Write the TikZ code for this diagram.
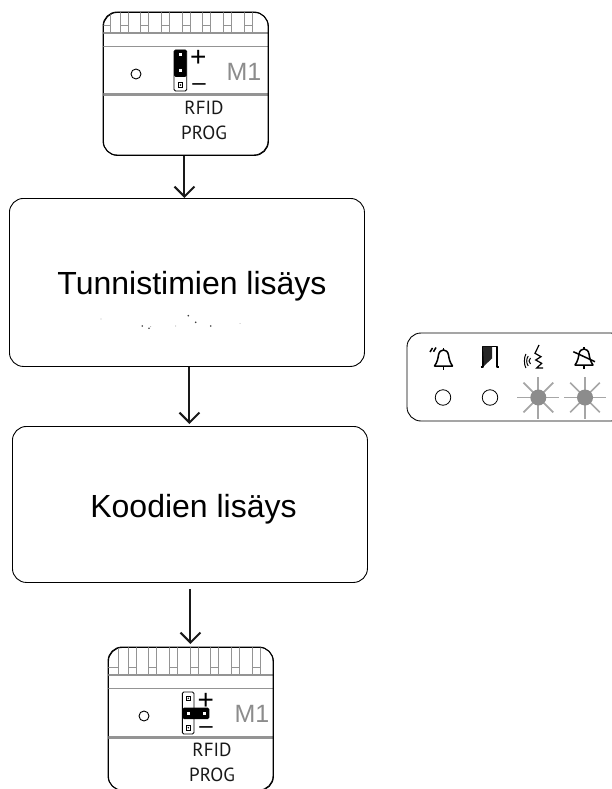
\documentclass[tikz,border=0pt]{standalone}
\usepackage{fontspec}
\setmainfont{Liberation Sans}
\newfontfamily\labelfont{PT Sans}
\usetikzlibrary{arrows.meta}
\definecolor{ledgray}{gray}{0.55}
\definecolor{raygray}{gray}{0.65}
\definecolor{rulegray}{gray}{0.58}
\tikzset{
 stepbox/.style={draw,line width=0.9pt,rounded corners=14pt,inner sep=0pt,anchor=north west},
 steptext/.style={inner sep=0pt,font=\fontsize{32}{34}\selectfont},
 sign/.style={inner sep=0pt,text height=10pt,text depth=0pt},
 flow/.style={-{Straight Barb[length=10pt,width=20pt,line width=2pt]},line width=2pt,black!90},
 pin/.style={fill=white,minimum size=3pt,inner sep=0pt},
 hole/.style={draw,line width=0.7pt,fill=white,minimum size=4.5pt,inner sep=0pt},
 lamp/.style={circle,draw,line width=0.8pt,fill=white,minimum size=15.5pt,inner sep=0pt},
 lit/.style={circle,fill=ledgray,minimum size=16pt,inner sep=0pt},
 icon/.style={line width=1.5pt,line join=round}
}
\begin{document}
\begin{tikzpicture}[x=1pt,y=-1pt]
 \useasboundingbox (0,0) rectangle (611,789);
 % the two steps
 \node[stepbox,minimum width=355pt,minimum height=168pt] (add1) at (9,198) {};
 \node[stepbox,minimum width=355pt,minimum height=156pt] (add2) at (12,426) {};
 \node[steptext] (add1 text) at (192,286) {Tunnistimien lis\"ays};
 \node[steptext] (add2 text) at (193.5,509) {Koodien lis\"ays};
 % specks under the first label
 \foreach \sx/\sy/\sr in {142.3/326/0.9,149/328.3/0.9,150.7/326.7/0.4,175.7/326/0.4,188.3/315.7/0.9,195.7/322.3/0.9,210.7/326/0.9,101/319/0.3,240/323.3/0.3}
  \fill[black!75] (\sx,\sy) circle (\sr pt);
 % RFID modules
 \foreach \mname/\mx/\my/\dx/\dy in {mod1/103/12/0/0,mod2/108/647/3/7}{
  \node[stepbox,minimum width=165pt,minimum height=143pt] (\mname) at (\mx,\my) {};
  \begin{scope}
   \clip[rounded corners=14pt] (\mx,\my) rectangle ++(165,143);
   \foreach \k in {0,...,6}{
    \draw[line width=0.8pt,rulegray] (\mx+\dx+17+20.7*\k,\my) -- ++(0,21+\dy)
     (\mx+\dx+25+20.7*\k,\my) -- ++(0,21+\dy)
     (\mx+\dx+17+20.7*\k,\my+13+\dy) -- ++(8,0);
   }
   \draw[line width=0.8pt,rulegray] (\mx+\dx+7,\my) -- ++(0,21+\dy)
    (\mx,\my+13+\dy) -- ++(\dx+7,0);
   \draw[line width=2.2pt,rulegray] (\mx,\my+21+\dy) -- ++(165,0);
   \draw[line width=0.9pt,rulegray] (\mx,\my+34+\dy) -- ++(165,0);
   \draw[line width=3pt,rulegray] (\mx,\my+83+\dy) -- ++(165,0);
  \end{scope}
  \draw[line width=0.9pt,rounded corners=14pt] (\mx,\my) rectangle ++(165,143);
  \node[circle,draw,line width=0.9pt,minimum size=10pt,inner sep=0pt] (\mname led) at (\mx+\dx+33,\my+\dy+62) {};
  \node[text=black!45,font=\fontsize{25}{27}\selectfont] (\mname m) at (\mx+\dx+141,\my+\dy+60) {M1};
  \node[font=\labelfont\fontsize{19}{21}\selectfont,text=black!90] (\mname r) at (\mx+\dx+101,\my+\dy+96) {RFID};
  \node[font=\labelfont\fontsize{19}{21}\selectfont,text=black!90] (\mname p) at (\mx+\dx+101,\my+\dy+121) {PROG};
 }
 % jumper, first module
 \draw[line width=0.9pt,rounded corners=1.5pt] (174,50) rectangle (186.7,91);
 \fill[rounded corners=1.5pt] (174,50) rectangle (186.7,77);
 \node[pin] (j1a) at (180.3,54.5) {};
 \node[pin] (j1b) at (180.3,71) {};
 \node[hole] (j1c) at (180.5,85) {};
 \fill (j1c) circle (0.8pt);
 \node[sign,font=\fontsize{28}{28}\selectfont] (plus1) at (198.3,61.5) {+};
 \node[sign,font=\fontsize{24}{24}\selectfont] (minus1) at (199,86) {--};
 % jumper, second module
 \draw[line width=0.9pt,rounded corners=1.5pt] (182.3,692) rectangle (194,734);
 \fill[rounded corners=1.5pt] (182.3,707.7) rectangle (209.3,719);
 \node[pin] (j2a) at (188.3,713.3) {};
 \node[pin] (j2b) at (204.3,713.3) {};
 \node[hole] (j2c) at (188.3,698.3) {};
 \node[hole] (j2d) at (188.3,727.7) {};
 \fill (j2c) circle (0.8pt) (j2d) circle (0.8pt);
 \node[sign,font=\fontsize{28}{28}\selectfont] (plus2) at (205.7,704.5) {+};
 \node[sign,font=\fontsize{24}{24}\selectfont] (minus2) at (206,728.5) {--};
 % arrows
 \draw[flow] ([xshift=-1.5pt]mod1.south) -- ([xshift=-1.5pt]mod1.south |- add1.north);
 \draw[flow] ([xshift=2.5pt]add1.south) -- ([xshift=2.5pt,yshift=2pt]add1.south |- add2.north);
 \draw[flow,shorten <=6pt] ([xshift=0.5pt]add2.south) -- ([xshift=0.5pt,yshift=3pt]add2.south |- mod2.north);
 % lamp panel
 \draw[line width=0.9pt,rounded corners=14pt] (407,333) rectangle (625,421);
 \node[lamp] (lamp1) at (443,397.5) {};
 \node[lamp] (lamp2) at (490,397.5) {};
 \foreach \lname/\lx in {lamp3/538.3,lamp4/585}{
  \foreach \a in {0,45,...,315}
   \draw[raygray,line width=1.7pt] (\lx,397.5) -- ++(\a:21);
  \node[lit] (\lname) at (\lx,397.5) {};
 }
 % icons
 \foreach \bx/\by in {443.5/0,584/-1}{
  \begin{scope}[shift={(\bx,\by)},icon]
   \draw (-9,366) .. controls (-6,362) and (-5.5,358) .. (-5,355) .. controls (-4.5,351.5) and (-2,350) .. (0,350)
    .. controls (2,350) and (4.5,351.5) .. (5,355) .. controls (5.5,358) and (6,362) .. (9,366) -- cycle;
   \draw (0,350) -- (0,348) (0,366) -- (0,369.5);
  \end{scope}
 }
 \draw[icon] (430,352) -- (432.5,348) (433.5,351.7) -- (436,347.5);
 \draw[icon] (573.3,351.7) -- (595,361.7);
 \draw[icon] (480.5,367) -- (483,367) -- (483,346.7) -- (497,346.7) -- (497,367) -- (499,367);
 \fill[black!85] (483,346.7) -- (492,346.7) -- (492,358.5) -- (484,366) -- cycle;
 \draw[line width=1.2pt] (539,345) -- (535,353.3) -- (541,356.7) -- (535.7,360) -- (541.7,363.3) -- (536.7,368) -- (543,368);
 \foreach \wx/\wh in {0/3,2.3/5,4.6/7}
  \draw[line width=1pt] (530.5-\wx,361-\wh) .. controls (528.5-\wx,361-\wh/2) and (528.5-\wx,361+\wh/2) .. (530.5-\wx,361+\wh);
\end{tikzpicture}
\end{document}
